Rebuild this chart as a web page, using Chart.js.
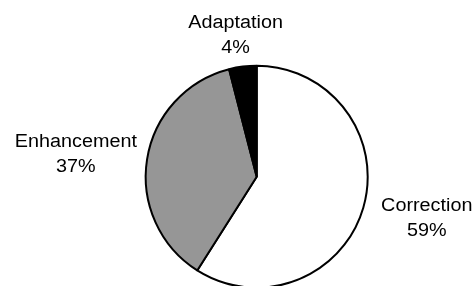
<!DOCTYPE html>
<html>
<head>
<meta charset="utf-8">
<script src="https://cdn.jsdelivr.net/npm/chart.js@4/dist/chart.umd.min.js"></script>
<style>
html, body { margin: 0; padding: 0; background: #ffffff; overflow: hidden; }
</style>
</head>
<body>
<canvas id="pieChart" width="476" height="286"></canvas>
<script>
// data
var categories = ["Correction", "Enhancement", "Adaptation"];
var shares = [59, 37, 4]; // percent
var sliceColours = ["#ffffff", "#969696", "#000000"];

var textStretch = 1.1; // labels in the original look a bit wide

// draws "name / xx%" outside each slice
var sliceLabels = {
	id: "sliceLabels",
	afterDatasetsDraw: function(chart){
		var ctx = chart.ctx;
		var arcs = chart.getDatasetMeta(0).data;
		var nudge = [[10, 3], [-1, 0], [0, -2]]; // small hand fixes so labels sit like the original
		ctx.save();
		ctx.font = "18px 'Liberation Sans', Arial, sans-serif";
		ctx.fillStyle = "#000000";
		ctx.textAlign = "center";
		ctx.textBaseline = "middle";
		for (var i = 0; i < arcs.length; i++){
			var arc = arcs[i];
			var mid = (arc.startAngle + arc.endAngle) / 2;
			var ux = Math.cos(mid), uy = Math.sin(mid);
			var line1 = categories[i];
			var line2 = shares[i] + "%";
			var halfW = Math.max(ctx.measureText(line1).width, ctx.measureText(line2).width) * textStretch / 2;
			var halfH = 19;
			var cx = arc.x + (arc.outerRadius + 10) * ux + ux * halfW + nudge[i][0];
			var cy = arc.y + (arc.outerRadius + 10) * uy + uy * halfH + nudge[i][1];
			ctx.save();
			ctx.translate(cx, cy);
			ctx.scale(textStretch, 1);
			ctx.fillText(line1, 0, -12.5);
			ctx.fillText(line2, 0, 12.5);
			ctx.restore();
		}
		ctx.restore();
	}
};

var ctx = document.getElementById("pieChart").getContext("2d");
var chart = new Chart(ctx, {
	type: "pie",
	data: {
		labels: categories,
		datasets: [{
			data: shares,
			backgroundColor: sliceColours,
			borderColor: "#000000",
			borderWidth: 2,
			hoverOffset: 0,
			radius: 111,
			clip: false
		}]
	},
	options: {
		responsive: false,
		animation: false,
		devicePixelRatio: 1,
		layout: { padding: { left: 37.4, right: 0, top: 67.4, bottom: 0 } },
		plugins: {
			legend: { display: false },
			tooltip: { enabled: false }
		}
	},
	plugins: [sliceLabels]
});
</script>
</body>
</html>
